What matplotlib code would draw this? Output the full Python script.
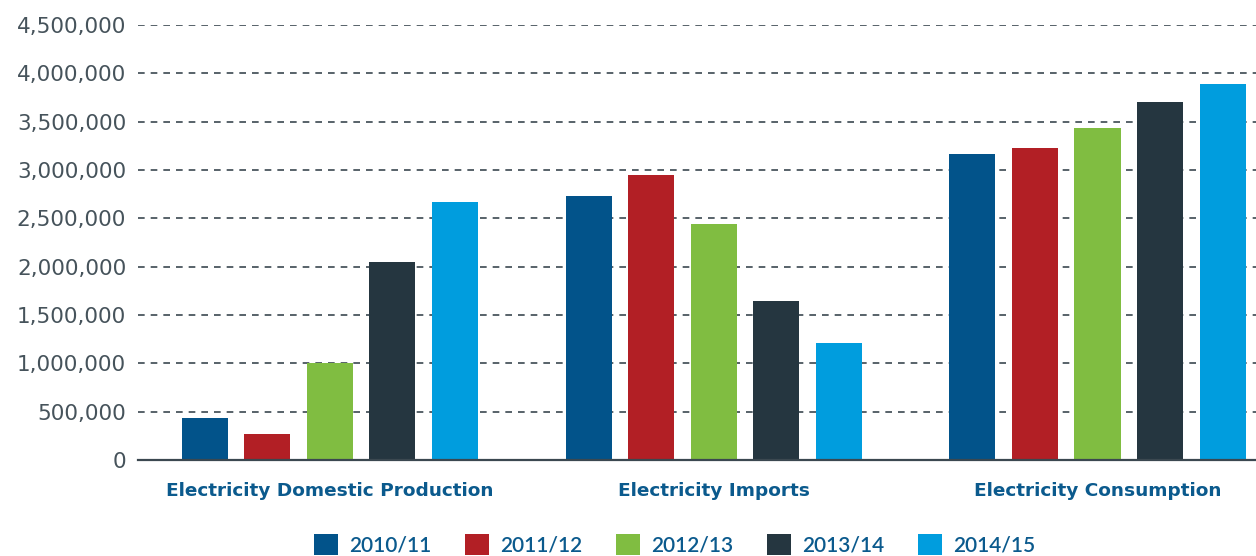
import numpy as np
import matplotlib.pyplot as plt
from matplotlib.patches import Patch
from matplotlib.ticker import FuncFormatter

plt.rcParams['font.family'] = ['DejaVu Sans']

# data
categories = ["Electricity Domestic Production", "Electricity Imports", "Electricity Consumption"]
years = ["2010/11", "2011/12", "2012/13", "2013/14", "2014/15"]
v_2010 = [435000, 2731000, 3166000]
v_2011 = [270000, 2948000, 3228000]
v_2012 = [1003000, 2441000, 3435000]
v_2013 = [2050000, 1645000, 3704000]
v_2014 = [2670000, 1210000, 3890000]
series = [v_2010, v_2011, v_2012, v_2013, v_2014]
colors = ["#02538A", "#B21F25", "#80BD41", "#253640", "#009DDE"]

txt_grey = "#3B4850"
txt_blue = "#0B5A8D"

fig = plt.figure(figsize=(12.56, 5.56), dpi=100)
ax = fig.add_axes([138/1256, 1-460/556, 1-138/1256, 435/556])

x = np.arange(len(categories))
step = 0.163
w = 0.12
for i, (vals, c) in enumerate(zip(series, colors)):
    ax.bar(x + (i-2)*step, vals, width=w, color=c, zorder=3)

ax.set_xlim(-0.5, 2.413)
ax.set_ylim(0, 4500000)
ax.set_yticks(np.arange(0, 4500001, 500000))
ax.yaxis.set_major_formatter(FuncFormatter(lambda v, p: "{:,.0f}".format(v)))
ax.grid(axis='y', color=txt_grey, linestyle=(0, (4.0, 3.6)), linewidth=1.2, zorder=0)
ax.set_axisbelow(True)

for s in ['top', 'right', 'left']:
    ax.spines[s].set_visible(False)
ax.spines['bottom'].set_color(txt_grey)
ax.spines['bottom'].set_linewidth(1.6)
ax.spines['bottom'].set_zorder(4)

ax.tick_params(axis='y', length=0, pad=8.5, labelsize=15.5, labelcolor="#46535B")
ax.tick_params(axis='x', length=0, pad=16, labelsize=13.3, labelcolor=txt_blue)
ax.set_xticks(x)
ax.set_xticklabels(categories, fontweight='bold')

handles = [Patch(facecolor=c, label=y) for c, y in zip(colors, years)]
leg = fig.legend(handles=handles, loc='upper center', bbox_to_anchor=(0.537, 1-534/556),
                 ncol=5, frameon=False, handlelength=1.15, handleheight=1.15,
                 handletextpad=0.53, columnspacing=1.62, borderaxespad=0, borderpad=0,
                 prop={'family': 'Lato', 'weight': 'semibold', 'size': 15})
for t in leg.get_texts():
    t.set_color(txt_blue)

fig.savefig("out.png", dpi=100)
